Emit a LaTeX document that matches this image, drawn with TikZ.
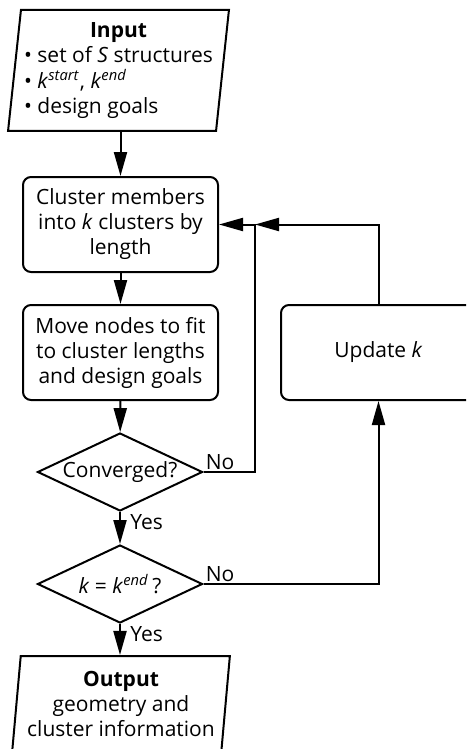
\documentclass[tikz,border=0pt]{standalone}
\usepackage{fontspec}
\setmainfont{Open Sans}
\usetikzlibrary{arrows.meta,positioning,shapes.geometric}

\begin{document}
\begin{tikzpicture}[x=0.5pt, y=-0.5pt,
  every node/.style={font=\fontsize{10.5}{12.5}\selectfont},
  io/.style={draw, line width=1pt, trapezium, trapezium left angle=83, trapezium right angle=97, trapezium stretches=true, inner sep=0pt, align=center},
  box/.style={draw, line width=1pt, rounded corners=4pt, minimum width=97.5pt, minimum height=47.5pt, align=center},
  dec/.style={draw, line width=1pt, diamond, aspect=2.1, inner sep=0pt, minimum width=82.5pt, minimum height=39pt},
  arr/.style={-{Triangle[length=12pt,width=6.5pt]}, line width=1pt},
  lbl/.style={inner sep=1pt}]

\useasboundingbox (0,0) rectangle (466,749);
\clip (0,0) rectangle (466,749);

%% ── main column ─────────────────────────────────────────
\node[io, minimum width=110.5pt, minimum height=60.5pt] (input) at (118.5,70.5)
  {\begin{tabular}{@{}l@{}}\multicolumn{1}{@{}c@{}}{\textbf{Input}}\\
   • set of \textit{S} structures\\
   • \textit{k}\textsuperscript{\textit{start}}, \textit{k}\textsuperscript{\textit{end}}\\
   • design goals\end{tabular}};
\node[box] (cluster) at (120.5,224.5) {Cluster members\\into \textit{k} clusters by\\length};
\node[box] (move) at (120.5,352.5) {Move nodes to fit\\to cluster lengths\\and design goals};
\node[dec] (conv) at (120,472) {Converged?};
\node[dec] (kend) at (120,584) {\textit{k} = \textit{k}\textsuperscript{\textit{end}}\,?};
\node[io, minimum width=109pt, minimum height=48pt] (output) at (121,704)
  {\textbf{Output}\\geometry and\\cluster information};

%% ── loop side ───────────────────────────────────────────
\node[box] (update) at (378.5,352.5) {Update \textit{k}};
\coordinate[right=18pt of cluster.east] (jn);

\draw[arr] (cluster.north |- input.south) -- (cluster.north);
\draw[arr] (cluster) -- (move);
\draw[arr] (move) -- (conv);
\draw[arr] (conv) -- (kend);
\draw[arr] (kend.south) -- (kend.south |- output.north);
\draw[arr] (conv.east) -| (jn) -- (cluster.east);
\draw[arr] (kend.east) -| (update.south);
\draw[arr] (update.north) |- (jn);

\node[lbl, anchor=south west] at (conv.east) {No};
\node[lbl, anchor=south west] at (kend.east) {No};
\node[lbl, anchor=north west] at ([xshift=4pt]conv.south) {Yes};
\node[lbl, anchor=north west] at ([xshift=4pt]kend.south) {Yes};
\end{tikzpicture}
\end{document}
